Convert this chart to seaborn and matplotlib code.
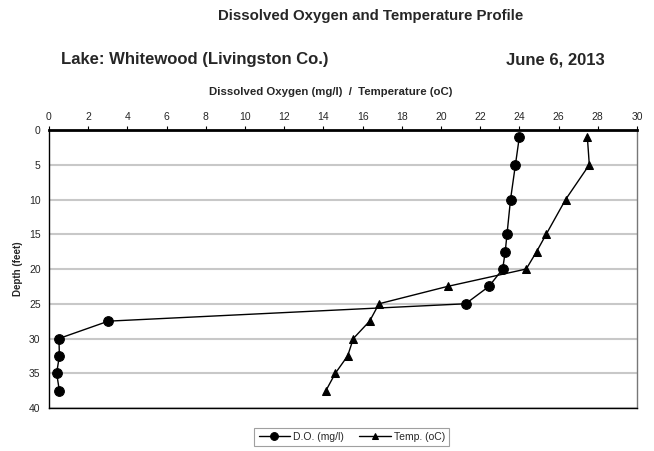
import pandas as pd
import matplotlib.pyplot as plt
import seaborn as sns

# depth profile readings
depth = [1, 5, 10, 15, 17.5, 20, 22.5, 25, 27.5, 30, 32.5, 35, 37.5]
do_mgl = [24.0, 23.8, 23.55, 23.37, 23.28, 23.15, 22.45, 21.26, 3.03, 0.51, 0.53, 0.39, 0.53]
temp_c = [27.47, 27.57, 26.36, 25.37, 24.88, 24.35, 20.34, 16.84, 16.36, 15.53, 15.24, 14.61, 14.13]

x_ticks = list(range(0, 31, 2))
y_ticks = list(range(0, 41, 5))

sns.set_style("white")
plt.rcParams['font.family'] = ['Liberation Sans', 'DejaVu Sans']

df = pd.DataFrame({"depth": depth, "do": do_mgl, "temp": temp_c})

fig = plt.figure(figsize=(6.54, 4.51), dpi=100)
ax = fig.add_axes([0.0749, 0.0953, 0.899, 0.6164])

sns.lineplot(data=df, x="do", y="depth", orient="y", sort=False, estimator=None, color="black",
             marker="o", markersize=7, linewidth=1, markeredgecolor="black",
             label="D.O. (mg/l)", ax=ax)
sns.lineplot(data=df, x="temp", y="depth", orient="y", sort=False, estimator=None, color="black",
             marker="^", markersize=6, linewidth=1, markeredgecolor="black",
             label="Temp. (oC)", ax=ax)

ax.set_xlim(0, 30)
ax.set_ylim(40, 0)
ax.set_xticks(x_ticks)
ax.set_yticks(y_ticks)
ax.xaxis.tick_top()
ax.tick_params(axis="both", labelsize=7.5, color="black", direction="out")
ax.tick_params(axis="x", length=3, pad=3)
ax.tick_params(axis="y", length=0, pad=6)
ax.yaxis.grid(True, color="#c8c8c8", linewidth=1.5)
ax.xaxis.grid(False)
for s in ax.spines.values():
    s.set_color("black")
    s.set_linewidth(1)
ax.spines["top"].set_linewidth(2)
ax.spines["right"].set_color("#777777")

ax.set_xlabel("")
ax.set_ylabel("Depth (feet)", fontsize=7, fontweight="bold", labelpad=4)

fig.text(0.566, 0.965, "Dissolved Oxygen and Temperature Profile", ha="center", va="center",
         fontsize=10.8, fontweight="bold")
fig.text(0.094, 0.867, "Lake: Whitewood (Livingston Co.)", ha="left", va="center",
         fontsize=12, fontweight="bold")
fig.text(0.924, 0.867, "June 6, 2013", ha="right", va="center", fontsize=12, fontweight="bold")
fig.text(0.505, 0.797, "Dissolved Oxygen (mg/l)  /  Temperature (oC)", ha="center", va="center",
         fontsize=8.2, fontweight="bold")

ax.legend_.remove()
handles, labels = ax.get_legend_handles_labels()
leg = fig.legend(handles, labels, loc="center", bbox_to_anchor=(0.538, 0.031), ncol=2,
                 fontsize=7.5, frameon=True, fancybox=False, handlelength=3, columnspacing=1.5,
                 borderpad=0.4, handletextpad=0.3, markerscale=0.8)
leg.get_frame().set_edgecolor("#888888")
leg.get_frame().set_linewidth(0.8)

fig.savefig("out.png", dpi=100)
